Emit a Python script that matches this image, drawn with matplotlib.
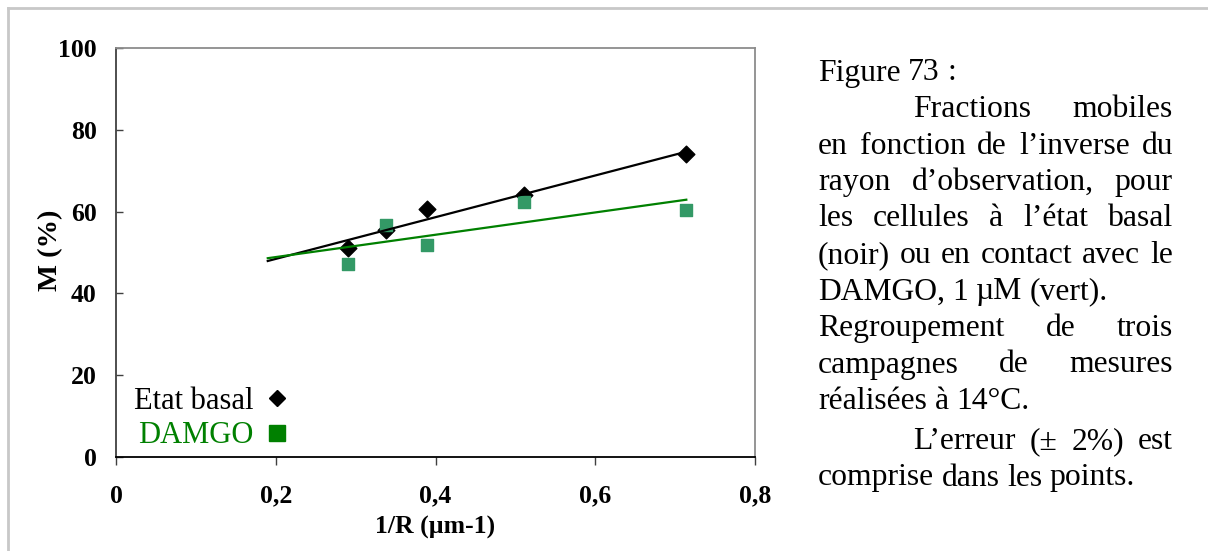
import numpy as np
import matplotlib
matplotlib.use('Agg')
import matplotlib.pyplot as plt
from matplotlib.lines import Line2D

# mobile fraction vs 1/R
inv_r = [0.290, 0.338, 0.389, 0.511, 0.714]
basal = [51.2, 55.5, 60.6, 64.0, 74.2]
damgo = [47.1, 56.7, 51.8, 62.3, 60.4]
trend_from = 0.19

x_ticks = [0, 0.2, 0.4, 0.6, 0.8]
x_tick_labels = ['0', '0,2', '0,4', '0,6', '0,8']
y_ticks = [0, 20, 40, 60, 80, 100]
series_names = ['Etat basal', 'DAMGO']

# caption: (text, indented, justified)
caption = [
    ("Figure 73 :", False, False),
    ("Fractions mobiles", True, True),
    ("en fonction de l’inverse du", False, True),
    ("rayon d’observation, pour", False, True),
    ("les cellules à l’état basal", False, True),
    ("(noir) ou en contact avec le", False, True),
    ("DAMGO, 1 µM (vert).", False, False),
    ("Regroupement de trois", False, True),
    ("campagnes de mesures", False, True),
    ("réalisées à 14°C.", False, False),
    ("L’erreur (± 2%) est", True, True),
    ("comprise dans les points.", False, False),
]

plt.rcParams['font.family'] = ['Liberation Serif', 'DejaVu Serif']

W, H = 1208, 551
fig = plt.figure(figsize=(W / 100, H / 100), dpi=100)
ax = fig.add_axes([116 / W, 1 - 457 / H, (755 - 116) / W, (457 - 48) / H])

ax.scatter(inv_r, basal, marker='D', s=72, color='black', zorder=2)
ax.scatter(inv_r, damgo, marker='s', s=82, color='#339966', zorder=3)

xs = np.array([trend_from, max(inv_r)])
k, b = np.polyfit(inv_r, basal, 1)
ax.plot(xs, k * xs + b, color='black', lw=1.6, zorder=4)
k, b = np.polyfit(inv_r, damgo, 1)
ax.plot(xs, k * xs + b, color='#008000', lw=1.6, zorder=4)

ax.set_xlim(0, 0.8)
ax.set_ylim(0, 100)
ax.set_xticks(x_ticks)
ax.set_xticklabels(x_tick_labels)
ax.set_yticks(y_ticks)
ax.tick_params(axis='x', direction='out', length=6, width=1, pad=14,
               labelsize=18.5, color='#404040')
ax.tick_params(axis='y', direction='in', length=5, width=1, pad=14,
               labelsize=18.5, color='#404040')
for lab in ax.get_xticklabels() + ax.get_yticklabels():
    lab.set_fontweight('bold')

ax.spines['left'].set_color('#404040')
ax.spines['bottom'].set_color('black')
ax.spines['top'].set_color('#8c8c8c')
ax.spines['right'].set_color('#8c8c8c')
for sp in ax.spines.values():
    sp.set_linewidth(1.3)

ax.set_xlabel('1/R (µm-1)', fontsize=18.5, fontweight='bold')
ax.set_ylabel('M (%)', fontsize=20.5, fontweight='bold')
ax.xaxis.set_label_coords(0.5, -0.145)
ax.yaxis.set_label_coords(-0.082, 0.505)

handles = [Line2D([], [], ls='none', marker='D', ms=8.5, color='black'),
           Line2D([], [], ls='none', marker='s', ms=11, color='#008000')]
leg = ax.legend(handles, series_names, loc='lower left',
                bbox_to_anchor=(-0.005, -0.036), frameon=False, markerfirst=False,
                fontsize=22, handlelength=0.8, handletextpad=0.35,
                labelspacing=0.18, borderpad=0.2)
leg.get_texts()[1].set_color('#008000')

# light frame around the figure
fig.add_artist(Line2D([8 / W, 8 / W], [0, 1 - 8 / H], color='#c8c8c8', lw=2))
fig.add_artist(Line2D([8 / W, 1], [1 - 8 / H, 1 - 8 / H], color='#c8c8c8', lw=2))

# justified caption on the right
renderer = fig.canvas.get_renderer()
left, right, indent = 818, 1173, 913
base = [80.5 + 36.5 * i for i in range(10)] + [449, 485.5]
for (line, ind, just), yb in zip(caption, base):
    words = line.split(' ')
    texts = [fig.text(0, 1 - yb / H, w, fontsize=22.8, va='baseline') for w in words]
    widths = [t.get_window_extent(renderer).width for t in texts]
    x0 = indent if ind else left
    if just and len(words) > 1:
        gap = (right - x0 - sum(widths)) / (len(words) - 1)
    else:
        gap = 7.5
    x = x0
    for t, w in zip(texts, widths):
        t.set_x(x / W)
        x += w + gap

fig.savefig('out.png', dpi=100)
